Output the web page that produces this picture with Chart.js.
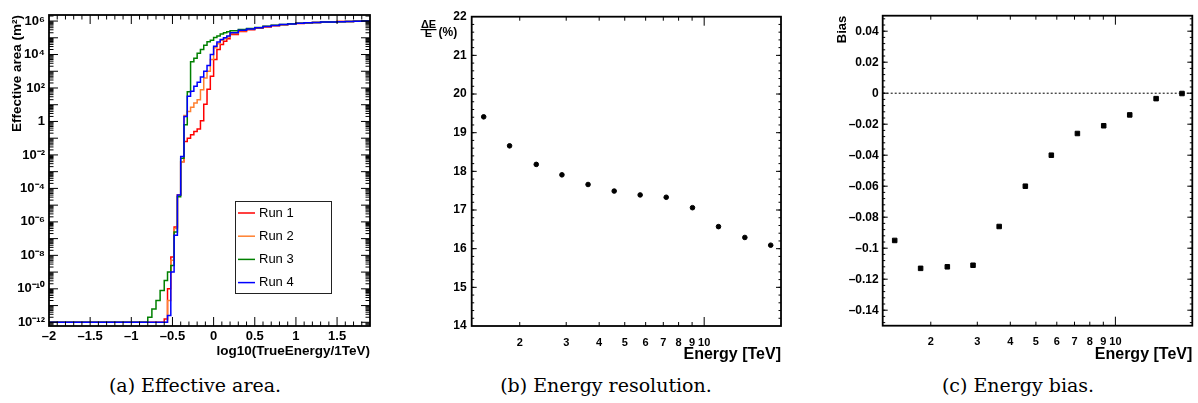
<!DOCTYPE html>
<html>
<head>
<meta charset="utf-8">
<script src="https://cdn.jsdelivr.net/npm/chart.js@4.4.0/dist/chart.umd.min.js"></script>
<style>
  body { margin: 0; background: #fff; width: 1198px; height: 403px; position: relative; overflow: hidden; }
  .panel { position: absolute; top: 0; }
  .caption { position: absolute; top: 374px; width: 300px; font-family: 'DejaVu Serif', serif; font-size: 19px; line-height: 22px; text-align: center; white-space: nowrap; color: #000; }
</style>
</head>
<body>
<div class="panel" style="left:0px"><canvas id="areaChart" width="400" height="370"></canvas></div>
<div class="panel" style="left:400px"><canvas id="resChart" width="400" height="370"></canvas></div>
<div class="panel" style="left:800px"><canvas id="biasChart" width="398" height="370"></canvas></div>
<div class="caption" style="left:45px">(a) Effective area.</div>
<div class="caption" style="left:456px">(b) Energy resolution.</div>
<div class="caption" style="left:868px">(c) Energy bias.</div>
<script>
// (a) effective area histograms: bin edges in log10(E/1TeV), contents as log10(area / m2)
const edges = [-2.00, -0.80, -0.75, -0.70, -0.65, -0.60, -0.56, -0.52, -0.48, -0.44, -0.40,
  -0.36, -0.32, -0.28, -0.24, -0.20, -0.16, -0.12, -0.08, -0.04, 0.00, 0.04, 0.08, 0.12, 0.16,
  0.20, 0.30, 0.40, 0.50, 0.60, 0.70, 0.80, 0.90, 1.00, 1.10, 1.20, 1.30, 1.40, 1.50, 1.60,
  1.70, 1.80, 1.90];
const run1 = [-12, -12, -12, -12, -12, -11.8, -10.0, -8.1, -6.3, -4.4, -2.4,
  -1.2, -1.0, -0.8, -0.6, -0.45, 0.04, 1.03, 1.93, 2.7, 3.7, 4.3, 4.6, 4.8, 4.95,
  5.2, 5.38, 5.48, 5.57, 5.65, 5.72, 5.78, 5.82, 5.86, 5.89, 5.92, 5.94, 5.95, 5.97, 5.98, 6.0, 6.02];
const run2 = [-12, -12, -12, -12, -12, -12, -10.7, -8.3, -6.4, -4.4, -2.4,
  0.35, 0.6, 0.85, 1.1, 1.3, 1.9, 2.6, 3.0, 3.7, 4.4, 4.65, 4.85, 4.95, 5.05,
  5.25, 5.42, 5.52, 5.6, 5.67, 5.73, 5.78, 5.83, 5.87, 5.9, 5.92, 5.94, 5.95, 5.97, 5.98, 6.0, 6.01];
const run3 = [-12, -11.7, -11.2, -10.7, -10.1, -9.5, -9.0, -8.6, -6.6, -4.5, -2.2,
  -0.2, 1.77, 3.57, 3.77, 4.07, 4.3, 4.56, 4.76, 4.86, 5.02, 5.1, 5.22, 5.3, 5.36,
  5.42, 5.5, 5.56, 5.62, 5.69, 5.75, 5.8, 5.84, 5.87, 5.9, 5.92, 5.94, 5.95, 5.96, 5.98, 5.99, 6.0];
const run4 = [-12, -12, -12, -12, -12, -12, -11.6, -9.0, -6.8, -4.4, -2.1,
  0.3, 1.5, 1.8, 2.1, 2.35, 2.65, 3.0, 3.35, 4.0, 4.5, 4.75, 4.9, 5.0, 5.1,
  5.3, 5.45, 5.53, 5.6, 5.68, 5.74, 5.79, 5.83, 5.87, 5.9, 5.92, 5.94, 5.95, 5.96, 5.98, 5.99, 6.0];
const runLabels = ['Run 1', 'Run 2', 'Run 3', 'Run 4'];
const runColors = ['#ff0000', '#ff8030', '#008000', '#0000ff'];

const xTicksA = [-2, -1.5, -1, -0.5, 0, 0.5, 1, 1.5];
const xLabelsA = ['\u20132', '\u20131.5', '\u20131', '\u20130.5', '0', '0.5', '1', '1.5'];
const yTicksA = [1e-12, 1e-10, 1e-8, 1e-6, 1e-4, 1e-2, 1, 1e2, 1e4, 1e6];
const yLabelsA = ['10\u207B\u00B9\u00B2', '10\u207B\u00B9\u2070', '10\u207B\u2078', '10\u207B\u2076',
  '10\u207B\u2074', '10\u207B\u00B2', '1', '10\u00B2', '10\u2074', '10\u2076'];

// (b) and (c): per energy bin
const energies = [1.46, 1.83, 2.31, 2.89, 3.63, 4.56, 5.72, 7.18, 9.03, 11.33, 14.26, 17.87];
const resolution = [19.41, 18.66, 18.18, 17.91, 17.66, 17.49, 17.39, 17.33, 17.06, 16.57, 16.29, 16.09];
const bias = [-0.095, -0.113, -0.112, -0.111, -0.086, -0.060, -0.040, -0.026, -0.021, -0.014, -0.0035, -0.0002];

const eTicks = [2, 3, 4, 5, 6, 7, 8, 9, 10];
const resTicks = [14, 15, 16, 17, 18, 19, 20, 21, 22];
const biasTicks = [-0.14, -0.12, -0.1, -0.08, -0.06, -0.04, -0.02, 0, 0.02, 0.04];
const biasLabels = ['\u20130.14', '\u20130.12', '\u20130.1', '\u20130.08', '\u20130.06', '\u20130.04',
  '\u20130.02', '0', '0.02', '0.04'];

Chart.defaults.font.family = "'Liberation Sans', Arial, sans-serif";
Chart.defaults.color = '#000';

const bold = (size) => ({ size: size, weight: 'bold' });
const noGrid = { display: false, drawTicks: false };

function histPoints(logs) {
  const pts = logs.map((v, i) => ({ x: edges[i], y: Math.pow(10, v) }));
  pts.push({ x: edges[edges.length - 1], y: Math.pow(10, logs[logs.length - 1]) });
  return pts;
}

function range(from, to, step) {
  const out = [];
  for (let v = from; v <= to + step / 1e3; v += step) out.push(+v.toFixed(6));
  return out;
}

// ROOT style frame with inward ticks on all four sides
function frameTicks(cfg) {
  return {
    id: 'frameTicks',
    afterDatasetsDraw(chart) {
      const { ctx, chartArea: a } = chart;
      const xs = chart.scales.x, ys = chart.scales.y;
      ctx.save();
      ctx.strokeStyle = '#000';
      ctx.lineWidth = 1;
      ctx.beginPath();
      const tx = (vals, len) => vals.forEach(v => {
        const p = xs.getPixelForValue(v);
        if (p < a.left + 1 || p > a.right - 1) return;
        ctx.moveTo(p, a.bottom); ctx.lineTo(p, a.bottom - len);
        ctx.moveTo(p, a.top); ctx.lineTo(p, a.top + len);
      });
      const ty = (vals, len) => vals.forEach(v => {
        const p = ys.getPixelForValue(v);
        if (p < a.top + 1 || p > a.bottom - 1) return;
        ctx.moveTo(a.left, p); ctx.lineTo(a.left + len, p);
        ctx.moveTo(a.right, p); ctx.lineTo(a.right - len, p);
      });
      tx(cfg.xMajor, cfg.xMajorLen); tx(cfg.xMinor, cfg.xMinorLen);
      ty(cfg.yMajor, cfg.yMajorLen); ty(cfg.yMinor, cfg.yMinorLen);
      ctx.stroke();
      ctx.lineWidth = 1.8;
      ctx.strokeRect(a.left, a.top, a.right - a.left, a.bottom - a.top);
      ctx.restore();
    }
  };
}

const legendBox = {
  id: 'legendBox',
  afterDraw(chart) {
    const ctx = chart.ctx;
    ctx.save();
    ctx.fillStyle = '#fff';
    ctx.fillRect(235, 201, 96, 92);
    ctx.strokeStyle = '#222';
    ctx.lineWidth = 1;
    ctx.strokeRect(235.5, 201.5, 96, 92);
    ctx.font = "13px 'Liberation Sans', Arial, sans-serif";
    ctx.textBaseline = 'middle';
    runLabels.forEach((lab, i) => {
      const y = 213 + i * 23.2;
      ctx.strokeStyle = runColors[i];
      ctx.lineWidth = 1.5;
      ctx.beginPath(); ctx.moveTo(238, y); ctx.lineTo(255, y); ctx.stroke();
      ctx.fillStyle = '#000';
      ctx.fillText(lab, 259, y);
    });
    ctx.restore();
  }
};

const resTitle = {
  id: 'resTitle',
  afterDraw(chart) {
    const ctx = chart.ctx;
    ctx.save();
    ctx.fillStyle = '#000';
    ctx.font = "bold 11px 'Liberation Sans', Arial, sans-serif";
    ctx.textAlign = 'center';
    ctx.textBaseline = 'alphabetic';
    ctx.fillText('\u0394E', 28.5, 27.5);
    ctx.fillText('E', 28.5, 37);
    ctx.fillRect(20.5, 29, 16, 1.2);
    ctx.font = "bold 12px 'Liberation Sans', Arial, sans-serif";
    ctx.textAlign = 'left';
    ctx.fillText('(%)', 38.5, 35.5);
    ctx.restore();
  }
};

const common = {
  responsive: false,
  devicePixelRatio: 1,
  animation: false,
  events: [],
  plugins: { legend: { display: false }, tooltip: { enabled: false } }
};

// (a) effective area
const minorA = range(-2, 1.9, 0.1).filter(v => !xTicksA.some(t => Math.abs(t - v) < 1e-6));
const minorLogA = [];
for (let e = -13; e <= 6; e++) for (let m = 2; m <= 9; m++) minorLogA.push(m * Math.pow(10, e));

new Chart(document.getElementById('areaChart'), {
  type: 'line',
  data: {
    datasets: [run1, run2, run3, run4].map((r, i) => ({
      label: runLabels[i],
      data: histPoints(r),
      borderColor: runColors[i],
      borderWidth: 1.5,
      stepped: 'before',
      pointRadius: 0,
      fill: false,
      order: 4 - i
    }))
  },
  options: {
    ...common,
    layout: { padding: { left: 9.4, right: 30, top: 15, bottom: 11 } },
    scales: {
      x: {
        type: 'linear', min: -2, max: 1.9,
        afterBuildTicks: s => { s.ticks = xTicksA.map(v => ({ value: v })); },
        afterFit: s => { s.height = 33; },
        grid: noGrid, border: { display: false },
        ticks: { font: bold(13), padding: 3, autoSkip: false, maxRotation: 0,
          callback: (v, i) => xLabelsA[i] },
        title: { display: true, text: 'log10(TrueEnergy/1TeV)', align: 'end', font: bold(13.5), padding: 0 }
      },
      y: {
        type: 'logarithmic', min: 6.0e-13, max: 2.3e6,
        afterBuildTicks: s => { s.ticks = yTicksA.map(v => ({ value: v })); },
        afterFit: s => { s.width = 39.6; },
        grid: noGrid, border: { display: false },
        ticks: { font: bold(13), padding: 4, autoSkip: false, callback: (v, i) => yLabelsA[i] },
        title: { display: true, text: 'Effective area (m\u00B2)', align: 'end', font: bold(13.5), padding: 0 }
      }
    }
  },
  plugins: [frameTicks({ xMajor: xTicksA, xMinor: minorA, xMajorLen: 9, xMinorLen: 4.5,
    yMajor: [1e-12, 1e-11, 1e-10, 1e-9, 1e-8, 1e-7, 1e-6, 1e-5, 1e-4, 1e-3, 1e-2, 1e-1, 1, 10, 1e2, 1e3, 1e4, 1e5, 1e6],
    yMinor: minorLogA, yMajorLen: 9, yMinorLen: 4.5 }), legendBox]
});

// shared energy axis for (b) and (c)
function energyAxis(height) {
  return {
    type: 'logarithmic', min: 1.315, max: 19.55,
    afterBuildTicks: s => { s.ticks = eTicks.map(v => ({ value: v })); },
    afterFit: s => { s.height = height; },
    grid: noGrid, border: { display: false },
    ticks: { font: bold(11), padding: 10, autoSkip: false, maxRotation: 0, callback: (v, i) => String(eTicks[i]) },
    title: { display: true, text: 'Energy [TeV]', align: 'end', font: bold(16), padding: 0 }
  };
}

// (b) energy resolution
new Chart(document.getElementById('resChart'), {
  type: 'scatter',
  data: {
    datasets: [{
      label: 'resolution',
      data: energies.map((e, i) => ({ x: e, y: resolution[i] })),
      backgroundColor: '#000', borderColor: '#000',
      pointRadius: 2.3, pointStyle: 'circle'
    }]
  },
  options: {
    ...common,
    layout: { padding: { left: 0, right: 19, top: 16.7, bottom: 5.4 } },
    scales: {
      x: energyAxis(38.6),
      y: {
        type: 'linear', min: 14, max: 22,
        afterBuildTicks: s => { s.ticks = resTicks.map(v => ({ value: v })); },
        afterFit: s => { s.width = 71.7; },
        grid: noGrid, border: { display: false },
        ticks: { font: bold(12), padding: 5, autoSkip: false, callback: (v, i) => String(resTicks[i]) }
      }
    }
  },
  plugins: [frameTicks({ xMajor: [10], xMinor: [2, 3, 4, 5, 6, 7, 8, 9], xMajorLen: 9, xMinorLen: 4,
    yMajor: resTicks, yMinor: range(14, 22, 0.2), yMajorLen: 5, yMinorLen: 2.5 }), resTitle]
});

// (c) energy bias
new Chart(document.getElementById('biasChart'), {
  type: 'scatter',
  data: {
    datasets: [{
      label: 'bias',
      data: energies.map((e, i) => ({ x: e, y: bias[i] })),
      backgroundColor: '#000', borderColor: '#000',
      pointRadius: 3.2, pointStyle: 'rect'
    }, {
      label: 'zero',
      data: [{ x: 1.315, y: 0 }, { x: 19.55, y: 0 }],
      showLine: true, borderColor: '#000', borderWidth: 1, borderDash: [2, 2],
      pointRadius: 0
    }]
  },
  options: {
    ...common,
    layout: { padding: { left: 34.2, right: 5.7, top: 15.7, bottom: 5.4 } },
    scales: {
      x: energyAxis(38.9),
      y: {
        type: 'linear', min: -0.15, max: 0.05,
        afterBuildTicks: s => { s.ticks = biasTicks.map(v => ({ value: v })); },
        afterFit: s => { s.width = 48.5; },
        grid: noGrid, border: { display: false },
        ticks: { font: bold(12), padding: 4, autoSkip: false, callback: (v, i) => biasLabels[i] },
        title: { display: true, text: 'Bias', align: 'end', font: bold(13), padding: 0 }
      }
    }
  },
  plugins: [frameTicks({ xMajor: [10], xMinor: [2, 3, 4, 5, 6, 7, 8, 9], xMajorLen: 9, xMinorLen: 4,
    yMajor: biasTicks, yMinor: range(-0.148, 0.048, 0.004), yMajorLen: 5, yMinorLen: 2.5 })]
});
</script>
</body>
</html>
